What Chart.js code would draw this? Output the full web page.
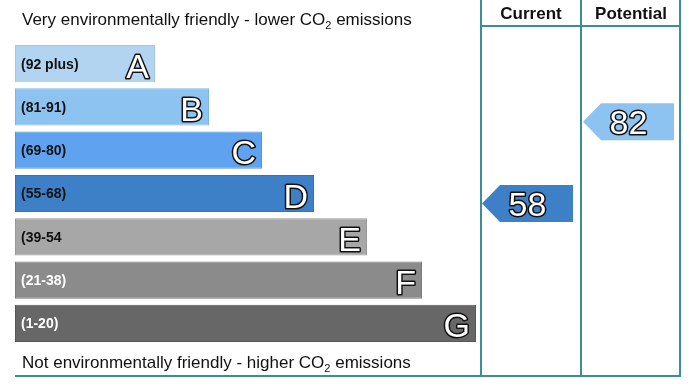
<!DOCTYPE html>
<html>
<head>
<meta charset="utf-8">
<script src="https://cdn.jsdelivr.net/npm/chart.js@4"></script>
<style>
  html, body { margin: 0; padding: 0; background: #fff; }
  #wrap { position: relative; width: 700px; height: 390px; font-family: "Liberation Sans", Arial, sans-serif; }
  canvas { position: absolute; left: 0; top: 0; }
  .txt { position: absolute; color: #111; white-space: nowrap; }
  .cap { font-size: 17px; }
  .hdr { font-size: 17px; font-weight: bold; text-align: center; width: 100px; }
  sub { font-size: 11px; vertical-align: -4px; line-height: 0; }
</style>
</head>
<body>
<div id="wrap">
  <canvas id="c" width="700" height="390"></canvas>
  <div class="txt cap" style="left:22px; top:10px;">Very environmentally friendly - lower CO<sub>2</sub> emissions</div>
  <div class="txt cap" style="left:22px; top:353px;">Not environmentally friendly - higher CO<sub>2</sub> emissions</div>
  <div class="txt hdr" style="left:481px; top:4px;">Current</div>
  <div class="txt hdr" style="left:581px; top:4px;">Potential</div>
</div>
<script>
// ---- data ----
const categories = ['A', 'B', 'C', 'D', 'E', 'F', 'G'];
const rangeLabels = ['(92 plus)', '(81-91)', '(69-80)', '(55-68)', '(39-54', '(21-38)', '(1-20)'];
const bandLow = [92, 81, 69, 55, 39, 21, 1];
const bandHigh = [100, 91, 80, 68, 54, 38, 20];
const barLengths = [140, 194, 247, 299, 352, 407, 461];
const currentRating = 58;
const potentialRating = 82;

// ---- styles ----
const barColors = ['#b2d4f0', '#8dc3f1', '#5fa3f0', '#3d80c8', '#a7a7a7', '#8b8b8b', '#676767'];
const barBorders = ['#a3c6e4', '#7fb3e0', '#5296e0', '#3572b5', '#979797', '#7b7b7b', '#575757'];
const labelColors = ['#111', '#111', '#111', '#111', '#111', '#fff', '#fff'];
const teal = '#3a8f97';
const BP = 0.86;

function bandIndex(score) {
  for (let i = 0; i < bandLow.length; i++) {
    if (score >= bandLow[i] && score <= bandHigh[i]) return i;
  }
  return bandLow.length - 1;
}
function scoreToIndex(score) {
  const i = bandIndex(score);
  return i - BP / 2 + BP * (bandHigh[i] - score) / (bandHigh[i] - bandLow[i]);
}

function outlinedText(ctx, text, x, y, font, align) {
  ctx.save();
  ctx.font = font;
  ctx.textAlign = align;
  ctx.textBaseline = 'alphabetic';
  ctx.lineJoin = 'round';
  ctx.lineWidth = 3;
  ctx.strokeStyle = '#111';
  ctx.strokeText(text, x, y);
  ctx.fillStyle = '#fff';
  ctx.fillText(text, x, y);
  ctx.restore();
}

const epcPlugin = {
  id: 'epc',
  afterDatasetsDraw(chart) {
    const ctx = chart.ctx;
    const xs = chart.scales.x, ys = chart.scales.y;
    // labels inside bars
    categories.forEach((cat, i) => {
      const yc = ys.getPixelForValue(i);
      ctx.save();
      ctx.font = 'bold 14px "Liberation Sans", Arial, sans-serif';
      ctx.fillStyle = labelColors[i];
      ctx.textBaseline = 'middle';
      ctx.textAlign = 'left';
      ctx.fillText(rangeLabels[i], xs.left + 6, yc + 1);
      ctx.restore();
      const xe = xs.getPixelForValue(barLengths[i]);
      outlinedText(ctx, cat, xe - 6, yc + 14, '34px "Liberation Sans", Arial, sans-serif', 'right');
    });
    // arrows
    const drawArrow = (score, x0, x1) => {
      const i = bandIndex(score);
      const yc = ys.getPixelForValue(scoreToIndex(score));
      const h = 37, tip = 18;
      ctx.save();
      ctx.beginPath();
      ctx.moveTo(x0, yc);
      ctx.lineTo(x0 + tip, yc - h / 2);
      ctx.lineTo(x1, yc - h / 2);
      ctx.lineTo(x1, yc + h / 2);
      ctx.lineTo(x0 + tip, yc + h / 2);
      ctx.closePath();
      ctx.fillStyle = barColors[i];
      ctx.fill();
      ctx.restore();
      outlinedText(ctx, String(score), (x0 + x1) / 2, yc + 12, '34px "Liberation Sans", Arial, sans-serif', 'center');
    };
    drawArrow(currentRating, 482, 573);
    drawArrow(potentialRating, 583, 674);
    // frame
    ctx.save();
    ctx.strokeStyle = teal;
    ctx.lineWidth = 2;
    ctx.beginPath();
    [481, 581, 680].forEach(x => { ctx.moveTo(x, 0); ctx.lineTo(x, 377); });
    ctx.moveTo(480, 26); ctx.lineTo(681, 26);
    ctx.moveTo(15, 376); ctx.lineTo(681, 376);
    ctx.stroke();
    ctx.restore();
  }
};

new Chart(document.getElementById('c'), {
  type: 'bar',
  data: {
    labels: categories,
    datasets: [{
      data: barLengths,
      backgroundColor: barColors,
      borderColor: barBorders,
      borderWidth: 1,
      borderSkipped: false,
      barPercentage: BP,
      categoryPercentage: 1
    }]
  },
  options: {
    indexAxis: 'y',
    responsive: false,
    animation: false,
    layout: { padding: { left: 15, right: 220, top: 42, bottom: 45 } },
    scales: {
      x: { display: false, min: 0, max: 465 },
      y: { display: false }
    },
    plugins: { legend: { display: false }, tooltip: { enabled: false }, title: { display: false } }
  },
  plugins: [epcPlugin]
});
</script>
</body>
</html>
